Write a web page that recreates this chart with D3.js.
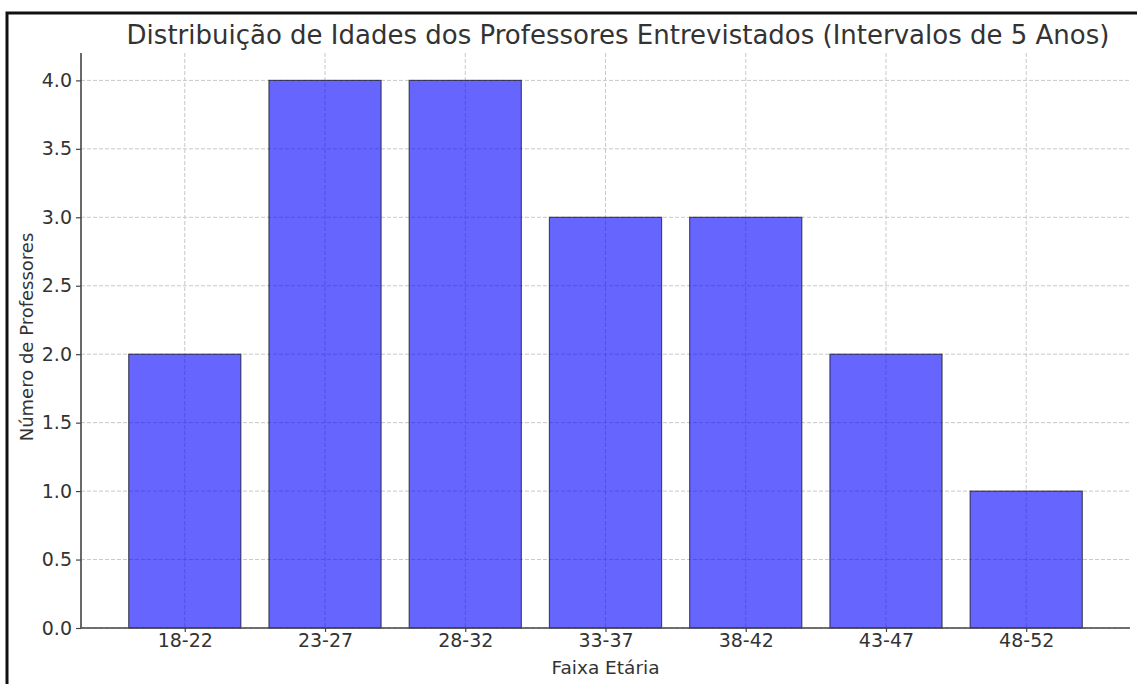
<!DOCTYPE html>
<html>
<head>
<meta charset="utf-8">
<script src="https://cdn.jsdelivr.net/npm/d3@7"></script>
<style>
  body { margin: 0; background: #fff; }
  svg { display: block; font-family: "DejaVu Sans", sans-serif; }
</style>
</head>
<body>
<svg width="1137" height="684"></svg>
<script>
const faixas = ["18-22", "23-27", "28-32", "33-37", "38-42", "43-47", "48-52"];
const professores = [2, 4, 4, 3, 3, 2, 1];
const yTicks = [0, 0.5, 1, 1.5, 2, 2.5, 3, 3.5, 4];

const svg = d3.select("svg");
const margin = { left: 81, right: 1130, top: 53, bottom: 628 };

// frame around the picture (only top and left visible)
svg.append("path")
  .attr("d", "M7,684 V13 H1137")
  .style("fill", "none")
  .style("stroke", "#111")
  .style("stroke-width", "3px");

const x = d3.scaleLinear().domain([-0.74, faixas.length - 1 + 0.74]).range([margin.left, margin.right]);
const y = d3.scaleLinear().domain([0, 4.2]).range([margin.bottom, margin.top]);
const barW = (x(0.8) - x(0));

// grid
const grid = svg.append("g");
grid.selectAll(".gy")
  .data(yTicks)
  .join("line")
  .attr("x1", margin.left).attr("x2", margin.right)
  .attr("y1", (d) => y(d)).attr("y2", (d) => y(d))
  .style("stroke", "#c8c8c8").style("stroke-width", "1px")
  .style("stroke-dasharray", "4,2");
grid.selectAll(".gx")
  .data(faixas)
  .join("line")
  .attr("x1", (d, i) => x(i)).attr("x2", (d, i) => x(i))
  .attr("y1", margin.top).attr("y2", margin.bottom)
  .style("stroke", "#c8c8c8").style("stroke-width", "1px")
  .style("stroke-dasharray", "4,2");

// bars
svg.append("g")
  .selectAll("rect")
  .data(professores)
  .join("rect")
  .attr("x", (d, i) => x(i) - barW / 2)
  .attr("y", (d) => y(d))
  .attr("width", barW)
  .attr("height", (d) => y(0) - y(d))
  .style("fill", "#0000ff")
  .style("fill-opacity", 0.6)
  .style("stroke", "#000")
  .style("stroke-opacity", 0.6)
  .style("stroke-width", "1.2px");

// axes
const yAxis = svg.append("g")
  .attr("transform", `translate(${margin.left},0)`)
  .call(d3.axisLeft(y).tickValues(yTicks).tickFormat(d3.format(".1f")).tickSize(5).tickPadding(4));
const xAxis = svg.append("g")
  .attr("transform", `translate(0,${margin.bottom})`)
  .call(d3.axisBottom(x).tickValues(d3.range(faixas.length)).tickFormat((i) => faixas[i]).tickSize(4).tickPadding(2));

[yAxis, xAxis].forEach((g) => {
  g.select(".domain").style("stroke", "#444").style("stroke-width", "1.6px");
  g.selectAll(".tick line").style("stroke", "#444").style("stroke-width", "1.2px");
  g.selectAll(".tick text")
    .style("font-family", "DejaVu Sans")
    .style("font-size", "19px")
    .style("fill", "#333");
});
xAxis.select(".domain").attr("d", `M${margin.left},0H${margin.right}`);
yAxis.select(".domain").attr("d", `M0,${margin.bottom}V${margin.top}`);

// labels
svg.append("text")
  .attr("x", 618).attr("y", 44)
  .style("text-anchor", "middle")
  .style("font-size", "26px")
  .style("fill", "#333")
  .text("Distribuição de Idades dos Professores Entrevistados (Intervalos de 5 Anos)");

svg.append("text")
  .attr("x", (margin.left + margin.right) / 2).attr("y", 674)
  .style("text-anchor", "middle")
  .style("font-size", "18.5px")
  .style("fill", "#333")
  .text("Faixa Etária");

svg.append("text")
  .attr("transform", `translate(33,337) rotate(-90)`)
  .style("text-anchor", "middle")
  .style("font-size", "18px")
  .style("fill", "#333")
  .text("Número de Professores");
</script>
</body>
</html>
